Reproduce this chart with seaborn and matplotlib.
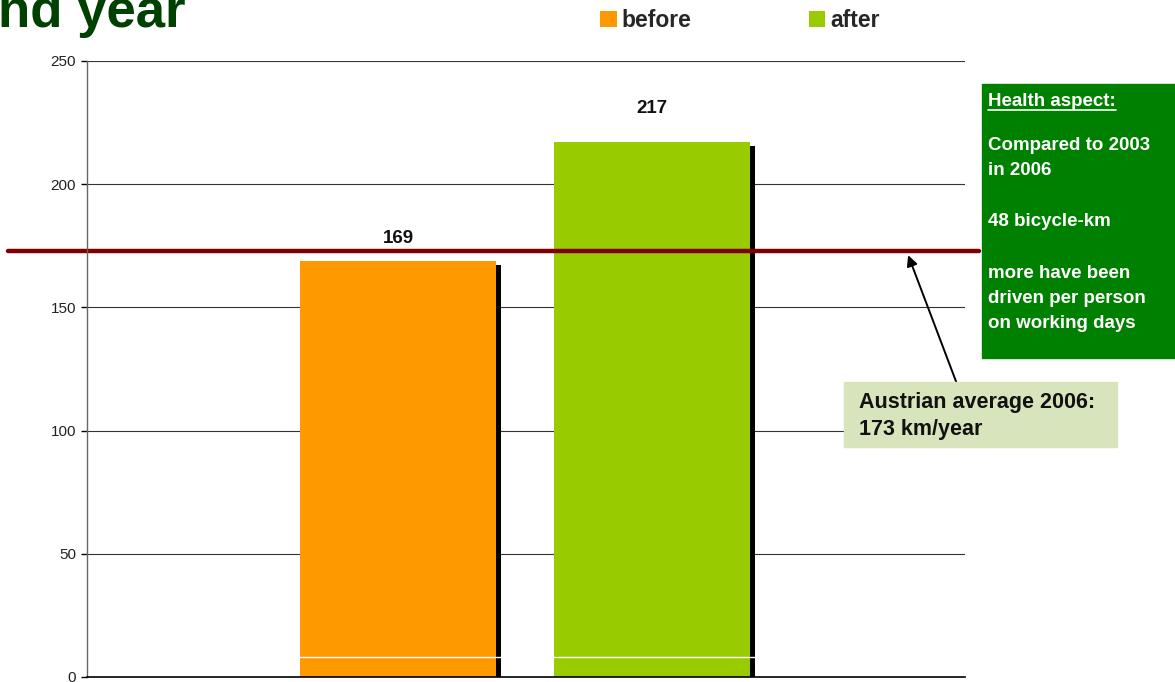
import matplotlib
matplotlib.use("Agg")
import matplotlib.pyplot as plt
import matplotlib.patches as mpatches
import matplotlib.patheffects as pe
from matplotlib.lines import Line2D
import seaborn as sns
import pandas as pd

# Data
periods = ["before", "after"]
km_per_year = [169, 217]
bar_colors = ["#FF9900", "#99CC00"]
austrian_avg = 173
y_ticks = [0, 50, 100, 150, 200, 250]

health_lines = ["Compared to 2003", "in 2006", "48 bicycle-km",
                "more have been", "driven per person", "on working days"]
avg_lines = ["Austrian average 2006:", "173 km/year"]

sns.set_style("white")
plt.rcParams["font.family"] = ["Liberation Sans", "DejaVu Sans"]

W, H = 1175, 682
fig = plt.figure(figsize=(W / 100, H / 100), dpi=100)


def fx(x):
    return x / W


def fy(y):
    return 1 - y / H


ax = fig.add_axes([fx(87), fy(677), fx(965) - fx(87), fy(61) - fy(677)])

df = pd.DataFrame({"period": periods, "km": km_per_year})
sns.barplot(data=df, x="period", y="km", hue="period", order=periods,
            hue_order=periods, palette=bar_colors, saturation=1,
            width=0.772, legend=False, ax=ax, zorder=3, linewidth=0)

# drop shadow on the bars
for patch in ax.patches:
    patch.set_path_effects([
        pe.SimplePatchShadow(offset=(3.6, -2.9), shadow_rgbFace="black", alpha=1),
        pe.Normal()])

ax.set_xlim(-1.224, 2.232)
ax.set_ylim(0, 250)
ax.set_yticks(y_ticks)
ax.set_xticks([2.232])
ax.set_xticklabels([""])
ax.set_xlabel("")
ax.set_ylabel("")
ax.tick_params(axis="y", direction="out", length=4, width=1, color="black",
               labelsize=11, labelcolor="#222222", pad=4, left=True)
ax.tick_params(axis="x", direction="out", length=4, width=1, color="#888888")

for y in y_ticks[1:]:
    ax.axhline(y, color="#333333", lw=0.8, zorder=1)
ax.axhline(8, color="white", lw=1.0, zorder=4)

for side in ["top", "right"]:
    ax.spines[side].set_visible(False)
ax.spines["left"].set_color("#666666")
ax.spines["left"].set_linewidth(1)
ax.spines["bottom"].set_color("black")
ax.spines["bottom"].set_linewidth(1.2)
for sp in ax.spines.values():
    sp.set_zorder(5)

# value labels
pads = [9.5, 18.5]
for cont, pad in zip(ax.containers, pads):
    ax.bar_label(cont, labels=[f"{v:.0f}" for v in cont.datavalues],
                 padding=pad, fontsize=13.5, fontweight="bold", color="#111111")

# Austrian average reference line, running past the axes on both sides
trans = matplotlib.transforms.blended_transform_factory(fig.transFigure, ax.transData)
ax.add_line(Line2D([fx(8), fx(979)], [austrian_avg, austrian_avg], transform=trans,
                   color="#800000", lw=3.2, clip_on=False, zorder=5))

# arrow from the note box to the line
x_tip = -1.224 + (908 - 87) / 254
ax.annotate("", xy=(x_tip, austrian_avg - 1.8), xycoords="data",
            xytext=(957, H - 384), textcoords="figure pixels",
            arrowprops=dict(arrowstyle="-|>", color="black", lw=1.4,
                            mutation_scale=16, shrinkA=0, shrinkB=0),
            zorder=6, annotation_clip=False)

# Health aspect box
fig.add_artist(mpatches.Rectangle((fx(982), fy(358)), fx(1175) - fx(982), fy(84) - fy(358),
                                  transform=fig.transFigure, color="#008000", zorder=2))
t = fig.text(fx(988), fy(101.7), "Health aspect:", color="white", fontsize=13.5,
             fontweight="bold", va="center", ha="left", zorder=3)
health_y = [145, 170.7, 221.7, 274, 298, 323]
for line, y in zip(health_lines, health_y):
    fig.text(fx(988), fy(y), line, color="white", fontsize=13.5,
             fontweight="bold", va="center", ha="left", zorder=3)
fig.canvas.draw()
bb = t.get_window_extent(fig.canvas.get_renderer())
fig.add_artist(Line2D([bb.x0 / W, bb.x1 / W], [fy(110), fy(110)], transform=fig.transFigure,
                      color="white", lw=1.2, zorder=3))

# Austrian average note
fig.add_artist(mpatches.Rectangle((fx(844), fy(447)), fx(1117) - fx(844), fy(382) - fy(447),
                                  transform=fig.transFigure, color="#D8E4BC", zorder=2))
for line, y in zip(avg_lines, [402.7, 430]):
    fig.text(fx(859), fy(y), line, color="#111111", fontsize=15.5,
             fontweight="bold", va="center", ha="left", zorder=3)

# Title fragment
fig.text(fx(-2), fy(27), "nd year", color="#004000", fontsize=38,
         fontweight="bold", va="baseline", ha="left")

# Legend
handles = [mpatches.Patch(color=c, lw=0) for c in bar_colors]
fig.legend(handles, periods, loc="upper left", bbox_to_anchor=(fx(600), fy(9)),
           ncol=2, frameon=False, borderpad=0, borderaxespad=0,
           handlelength=0.72, handleheight=0.72, handletextpad=0.23,
           columnspacing=5.1, prop=dict(size=16.5, weight="bold"))

fig.savefig("out.png", dpi=100)
